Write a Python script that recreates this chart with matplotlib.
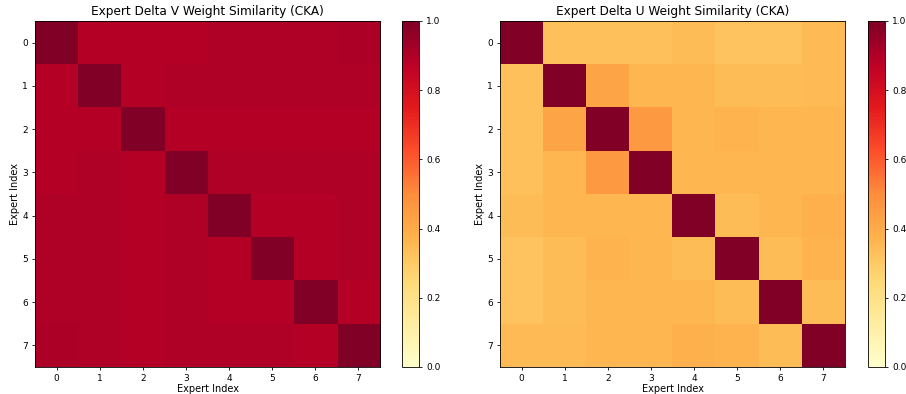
import numpy as np
import matplotlib
matplotlib.use("Agg")
import matplotlib.pyplot as plt

experts = list(range(8))

# CKA similarity between expert delta V weights
delta_v_cka = [
  [1.00, 0.89, 0.89, 0.89, 0.90, 0.90, 0.90, 0.91],
  [0.89, 1.00, 0.89, 0.90, 0.90, 0.90, 0.90, 0.90],
  [0.89, 0.89, 1.00, 0.89, 0.89, 0.89, 0.89, 0.89],
  [0.89, 0.90, 0.89, 1.00, 0.90, 0.90, 0.90, 0.90],
  [0.90, 0.90, 0.89, 0.90, 1.00, 0.89, 0.89, 0.90],
  [0.90, 0.90, 0.89, 0.90, 0.89, 1.00, 0.89, 0.90],
  [0.90, 0.90, 0.89, 0.90, 0.89, 0.89, 1.00, 0.89],
  [0.91, 0.90, 0.89, 0.90, 0.90, 0.90, 0.89, 1.00],
]

# CKA similarity between expert delta U weights
delta_u_cka = [
  [1.00, 0.33, 0.33, 0.33, 0.34, 0.32, 0.32, 0.35],
  [0.33, 1.00, 0.42, 0.36, 0.36, 0.34, 0.34, 0.35],
  [0.33, 0.42, 1.00, 0.46, 0.36, 0.37, 0.36, 0.36],
  [0.33, 0.36, 0.46, 1.00, 0.36, 0.36, 0.36, 0.36],
  [0.34, 0.36, 0.36, 0.36, 1.00, 0.34, 0.36, 0.38],
  [0.32, 0.34, 0.37, 0.36, 0.34, 1.00, 0.34, 0.37],
  [0.32, 0.34, 0.36, 0.36, 0.36, 0.34, 1.00, 0.34],
  [0.35, 0.35, 0.36, 0.36, 0.38, 0.37, 0.34, 1.00],
]

panels = [
  ("Expert Delta V Weight Similarity (CKA)", delta_v_cka, 35, 402),
  ("Expert Delta U Weight Similarity (CKA)", delta_u_cka, 500, 868),
]

W, H = 906, 394
fig = plt.figure(figsize=(W / 100, H / 100), dpi=100)

top, bottom = 21, 367
for title, mat, ax_x, cb_x in panels:
  ax = fig.add_axes([ax_x / W, 1 - bottom / H, 345 / W, (bottom - top) / H])
  cax = fig.add_axes([cb_x / W, 1 - bottom / H, 17 / W, (bottom - top) / H])
  im = ax.imshow(np.array(mat), cmap="YlOrRd", vmin=0, vmax=1, aspect="auto")
  ax.set_xticks(experts)
  ax.set_yticks(experts)
  ax.tick_params(labelsize=6.5, length=2.5, width=0.6, pad=2.5)
  ax.set_xlabel("Expert Index", fontsize=7, labelpad=1)
  ax.set_ylabel("Expert Index", fontsize=7, labelpad=2)
  ax.set_title(title, fontsize=8.7, pad=4)
  for s in ax.spines.values():
    s.set_linewidth(0.6)
  cb = fig.colorbar(im, cax=cax)
  cb.set_ticks([0.0, 0.2, 0.4, 0.6, 0.8, 1.0])
  cb.ax.tick_params(labelsize=6.5, length=2.5, width=0.6, pad=2.5)
  cb.outline.set_linewidth(0.6)

fig.savefig("out.png", dpi=100)
